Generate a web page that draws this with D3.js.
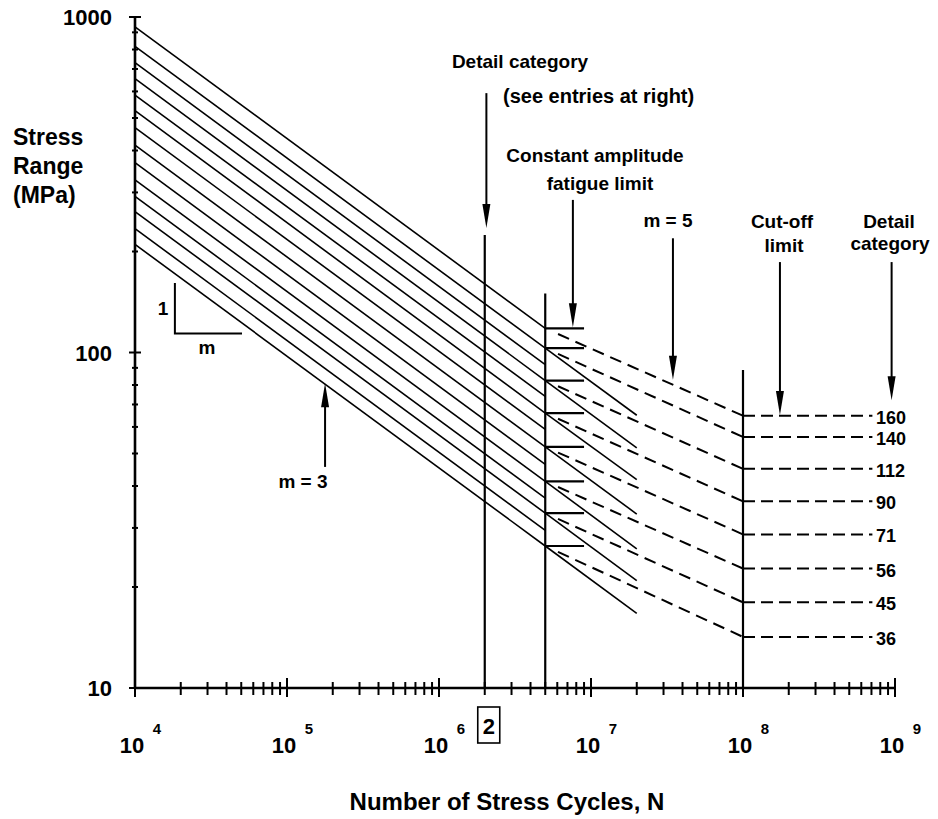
<!DOCTYPE html>
<html>
<head>
<meta charset="utf-8">
<script src="https://cdn.jsdelivr.net/npm/d3@7"></script>
<style>
  body { margin: 0; background: #fff; }
  text { font-family: "Liberation Sans", Arial, sans-serif; font-weight: bold; fill: #000; }
</style>
</head>
<body>
<div id="chart"></div>
<script>
// 1. Canvas
const W = 938, H = 819;

// 2. Data (stress range in MPa, cycles N)
// detail categories, top line to bottom line
const categories = [160, 140, 125, 112, 100, 90, 80, 71, 63, 56, 50, 45, 40, 36];
// where each m = 3 line starts (N = 1e4) and where it meets N = 5e6
const stressAt1e4 = [935, 818, 731, 655, 585, 526, 468, 415, 368, 327, 292, 263, 234, 210];
const stressAt5e6 = [118, 103, 92, 82.5, 74, 66, 59, 52.3, 46.4, 41.3, 36.8, 33.2, 29.5, 26.5];

// categories listed at the right
const labelled = [160, 140, 112, 90, 71, 56, 45, 36];
// m = 3 line carried on to N = 2e7 (none for 160)
const stressAt2e7 = [null, 65, 52, 41.8, 33, 26, 20.9, 16.7];
// constant amplitude fatigue limit (N = 5e6) and cut-off limit (N = 1e8)
const fatigueLimit = [118, 103, 82.5, 66, 52.3, 41.3, 33.2, 26.5];
const cutOffLimit = [64.8, 56, 45, 36, 28.7, 22.7, 18, 14.2];

// axis labels
const xMajor = [1e4, 1e5, 1e6, 1e7, 1e8, 1e9];
const xExponents = ["4", "5", "6", "7", "8", "9"];
const yMajor = [10, 100, 1000];
const yLabels = ["10", "100", "1000"];

// cycle counts of the reference verticals
const N_DETAIL = 2e6, N_CAFL = 5e6, N_EXT = 2e7, N_CUT = 1e8;
const N_CAFL_TICK = 9e6, N_CUT_END = 7.1e8, N_LABEL = 7.5e8;

// 3. SVG
const svg = d3.select("#chart")
  .append("svg")
  .attr("width", W)
  .attr("height", H);

// 4. Scales
const x = d3.scaleLog().domain([1e4, 1e9]).range([135, 895]);
const y = d3.scaleLog().domain([10, 1000]).range([688, 17]);

// 5. S-N lines, m = 3, N = 1e4 to 5e6
categories.forEach((c, i) => {
  svg.append("line")
    .attr("x1", x(1e4)).attr("y1", y(stressAt1e4[i]))
    .attr("x2", x(N_CAFL)).attr("y2", y(stressAt5e6[i]))
    .attr("stroke", "#000").attr("stroke-width", 1.6);
});

// 6. Labelled categories: extension, fatigue limit tick, m = 5 dashes, cut-off
labelled.forEach((c, i) => {
  if (stressAt2e7[i] !== null) {
    svg.append("line")
      .attr("x1", x(N_CAFL)).attr("y1", y(fatigueLimit[i]))
      .attr("x2", x(N_EXT)).attr("y2", y(stressAt2e7[i]))
      .attr("stroke", "#000").attr("stroke-width", 1.6);
  }
  svg.append("line")
    .attr("x1", x(N_CAFL)).attr("y1", y(fatigueLimit[i]))
    .attr("x2", x(N_CAFL_TICK)).attr("y2", y(fatigueLimit[i]))
    .attr("stroke", "#000").attr("stroke-width", 2.2);

  // m = 5 dashed part, leaving a small gap after the vertical
  const x0 = x(N_CAFL), y0 = y(fatigueLimit[i]);
  const x1 = x(N_CUT), y1 = y(cutOffLimit[i]);
  const t = 14 / Math.hypot(x1 - x0, y1 - y0);
  svg.append("line")
    .attr("x1", x0 + (x1 - x0) * t).attr("y1", y0 + (y1 - y0) * t)
    .attr("x2", x1).attr("y2", y1)
    .attr("stroke", "#000").attr("stroke-width", 2)
    .attr("stroke-dasharray", "12,7");

  svg.append("line")
    .attr("x1", x(N_CUT)).attr("y1", y(cutOffLimit[i]))
    .attr("x2", x(N_CUT_END)).attr("y2", y(cutOffLimit[i]))
    .attr("stroke", "#000").attr("stroke-width", 2)
    .attr("stroke-dasharray", "12,6");
  svg.append("text")
    .attr("x", x(N_LABEL))
    .attr("y", y(cutOffLimit[i]) + 8)
    .attr("font-size", "18px")
    .text(c);
});

// 7. Vertical reference lines
[[N_DETAIL, 224], [N_CAFL, 150], [N_CUT, 88.7]].forEach(([n, top]) => {
  svg.append("line")
    .attr("x1", x(n)).attr("x2", x(n))
    .attr("y1", y(top)).attr("y2", y(10))
    .attr("stroke", "#000").attr("stroke-width", 2.2);
});

// 8. Axes
svg.append("line")
  .attr("x1", x(1e4)).attr("x2", x(1e9))
  .attr("y1", y(10)).attr("y2", y(10))
  .attr("stroke", "#000").attr("stroke-width", 2.6);
svg.append("line")
  .attr("x1", x(1e4)).attr("x2", x(1e4))
  .attr("y1", y(1000)).attr("y2", y(10))
  .attr("stroke", "#000").attr("stroke-width", 2.6);

const isMajor = v => Math.abs(Math.log10(v) - Math.round(Math.log10(v))) < 1e-9;

svg.selectAll(".xtick")
  .data(x.ticks())
  .enter()
  .append("line")
  .attr("class", "xtick")
  .attr("x1", d => x(d)).attr("x2", d => x(d))
  .attr("y1", d => y(10) - (isMajor(d) ? 10 : 6))
  .attr("y2", d => y(10) + (isMajor(d) ? 9 : 7))
  .attr("stroke", "#000").attr("stroke-width", 2);

svg.selectAll(".ytick")
  .data(y.ticks())
  .enter()
  .append("line")
  .attr("class", "ytick")
  .attr("y1", d => y(d)).attr("y2", d => y(d))
  .attr("x1", d => x(1e4) - (isMajor(d) ? 6 : 3))
  .attr("x2", d => x(1e4) + (isMajor(d) ? 6 : 3))
  .attr("stroke", "#000").attr("stroke-width", 2);

// x labels: 10 with raised exponent
xMajor.forEach((v, i) => {
  svg.append("text")
    .attr("x", x(v) - 3)
    .attr("y", 753)
    .attr("text-anchor", "middle")
    .attr("font-size", "22px")
    .text("10");
  svg.append("text")
    .attr("x", x(v) + 22)
    .attr("y", 734)
    .attr("text-anchor", "middle")
    .attr("font-size", "15px")
    .text(xExponents[i]);
});

// y labels
yMajor.forEach((v, i) => {
  svg.append("text")
    .attr("x", 112)
    .attr("y", y(v) + 8)
    .attr("text-anchor", "end")
    .attr("font-size", "22px")
    .text(yLabels[i]);
});

// boxed 2 under N = 2e6
svg.append("rect")
  .attr("x", x(N_DETAIL) - 7).attr("y", 707)
  .attr("width", 22).attr("height", 36)
  .attr("fill", "none").attr("stroke", "#000").attr("stroke-width", 1.6);
svg.append("text")
  .attr("x", x(N_DETAIL) + 4).attr("y", 734)
  .attr("text-anchor", "middle")
  .attr("font-size", "22px")
  .text("2");

// axis titles
svg.append("text")
  .attr("x", 507).attr("y", 810)
  .attr("text-anchor", "middle")
  .attr("font-size", "24px")
  .text("Number of Stress Cycles, N");

["Stress", "Range", "(MPa)"].forEach((s, i) => {
  svg.append("text")
    .attr("x", 13).attr("y", 145 + i * 29)
    .attr("font-size", "23px")
    .text(s);
});

// 9. Annotation arrows (tail stress -> tip stress at a given N)
function arrow(n, from, to) {
  const ax = x(n), y0 = y(from), y1 = y(to);
  const dir = y1 > y0 ? 1 : -1;
  const len = 24, half = 4;
  svg.append("line")
    .attr("x1", ax).attr("x2", ax)
    .attr("y1", y0).attr("y2", y1 - dir * len * 0.6)
    .attr("stroke", "#000").attr("stroke-width", 2);
  svg.append("path")
    .attr("d", `M${ax - half},${y1 - dir * len} L${ax + half},${y1 - dir * len} L${ax},${y1} Z`)
    .attr("fill", "#000");
}

arrow(2.05e6, 593, 235);   // detail category
arrow(7.6e6, 285, 119);    // constant amplitude fatigue limit
arrow(3.46e7, 219, 83);    // m = 5
arrow(1.75e8, 186, 65.1);  // cut-off limit
arrow(9.5e8, 186, 72);     // detail category (right)
arrow(1.78e5, 45.6, 81);   // m = 3

function label(txt, cx, by, size, anchor) {
  svg.append("text")
    .attr("x", cx).attr("y", by)
    .attr("text-anchor", anchor || "middle")
    .attr("font-size", size + "px")
    .text(txt);
}

label("Detail category", 520, 68, 19);
label("(see entries at right)", 503, 103, 20, "start");
label("Constant amplitude", 595, 162, 19);
label("fatigue limit", 600, 190, 19);
label("m = 5", 668, 227, 19);
label("Cut-off", 782, 228, 19);
label("limit", 784, 252, 19);
label("Detail", 889, 228, 19);
label("category", 890, 250, 19);
label("m = 3", 303, 488, 19);

// slope triangle 1 : m
svg.append("path")
  .attr("d", `M${x(1.83e4)},${y(161)} L${x(1.83e4)},${y(114)} L${x(5.06e4)},${y(114)}`)
  .attr("fill", "none").attr("stroke", "#000").attr("stroke-width", 2);
label("1", 163, 315, 19);
label("m", 207, 354, 19);
</script>
</body>
</html>
